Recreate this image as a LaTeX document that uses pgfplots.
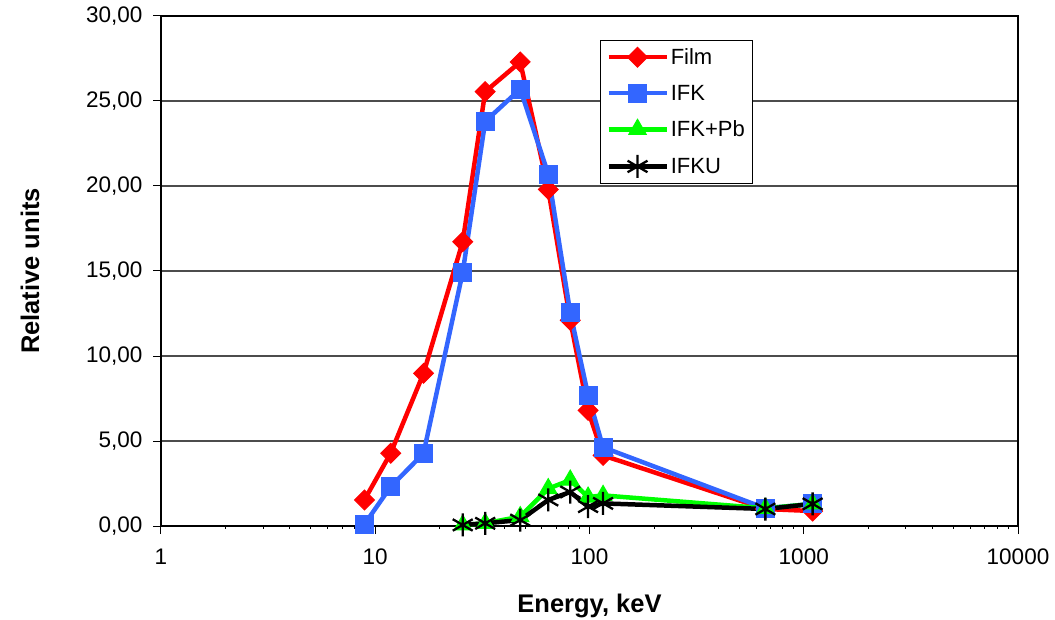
\documentclass[border=0pt]{standalone}
\usepackage{fontspec}
\setmainfont{Liberation Sans}
\usepackage{pgfplots}
\pgfplotsset{compat=1.18}
\usetikzlibrary{calc}

\definecolor{filmred}{RGB}{255,0,0}
\definecolor{ifkblue}{RGB}{51,102,255}
\definecolor{pbgreen}{RGB}{0,255,0}

\begin{document}
\begin{tikzpicture}
\begin{axis}[
    name=ax,
    scale only axis,
    width=857pt, height=510pt,
    xmode=log,
    xmin=1, xmax=10000,
    ymin=0, ymax=30,
    xtick={1,10,100,1000,10000},
    xticklabels={1,10,100,1000,10000},
    minor xtick={},
    ytick={0,5,...,30},
    yticklabel={\pgfmathprintnumber[fixed,fixed zerofill,precision=2,use comma]{\tick}},
    /pgf/number format/assume math mode=true,
    tick align=outside,
    xtick pos=bottom, ytick pos=left,
    major tick length=8pt,
    tick style={line width=1pt, black},
    axis line style={line width=1.3pt},
    ymajorgrids,
    major grid style={line width=1.2pt, black!70},
    ticklabel style={font=\fontsize{22.5}{26}\selectfont},
    xticklabel style={yshift=-11pt},
    yticklabel style={xshift=-7pt},
    xlabel={Energy, keV},
    ylabel={Relative units},
    xlabel style={font=\bfseries\fontsize{25.5}{28}\selectfont,
        at={(axis description cs:0.5,0)}, anchor=north, inner sep=0pt, yshift=-68pt},
    ylabel style={font=\bfseries\fontsize{25.5}{28}\selectfont,
        at={(axis description cs:-0.1529,0.5)}, anchor=center, inner sep=0pt},
    legend style={at={(0.512,0.953)}, anchor=north west, draw=black, line width=1pt,
        font=\fontsize{22}{25}\selectfont, row sep=15pt, inner sep=6pt},
    legend cell align=left,
    legend image code/.code={\draw[mark repeat=2,mark phase=2]
        plot coordinates {(0pt,0pt) (29pt,0pt) (58pt,0pt)};},
    every axis plot/.append style={line width=4.5pt},
]
\addplot[filmred, mark=square*, mark size=7pt, mark options={rotate=45, line width=1pt}]
coordinates {(8.9,1.53) (11.8,4.28) (16.8,8.98) (25.6,16.72) (32.6,25.55) (47.5,27.3)
 (64.2,19.8) (81.3,12.1) (98.5,6.8) (115.7,4.15) (662,1.0) (1100,0.88)};
\addlegendentry{Film}
\addplot[ifkblue, mark=square*, mark size=9pt, mark options={line width=1pt}]
coordinates {(8.9,0.1) (11.8,2.31) (16.8,4.27) (25.6,14.92) (32.6,23.8) (47.5,25.7)
 (64.2,20.7) (81.3,12.55) (98.5,7.7) (115.7,4.63) (662,1.04) (1100,1.3)};
\addlegendentry{IFK}
\addplot[pbgreen, mark=triangle*, mark size=10pt, mark options={line width=1pt}]
coordinates {(25.6,0.06) (32.6,0.16) (47.5,0.55) (64.2,2.2) (81.3,2.7) (98.5,1.7)
 (115.7,1.8) (662,1.04) (1100,1.3)};
\addlegendentry{IFK+Pb}
\addplot[black, mark=asterisk, mark size=11.5pt, mark options={line width=2.3pt}]
coordinates {(25.6,0.06) (32.6,0.16) (47.5,0.35) (64.2,1.53) (81.3,2.0) (98.5,1.14)
 (115.7,1.33) (662,1.0) (1100,1.3)};
\addlegendentry{IFKU}
\end{axis}
\pgfresetboundingbox
\path ($(ax.south west)+(-161pt,-93pt)$) rectangle ($(ax.north east)+(37pt,16pt)$);
\end{tikzpicture}
\end{document}
